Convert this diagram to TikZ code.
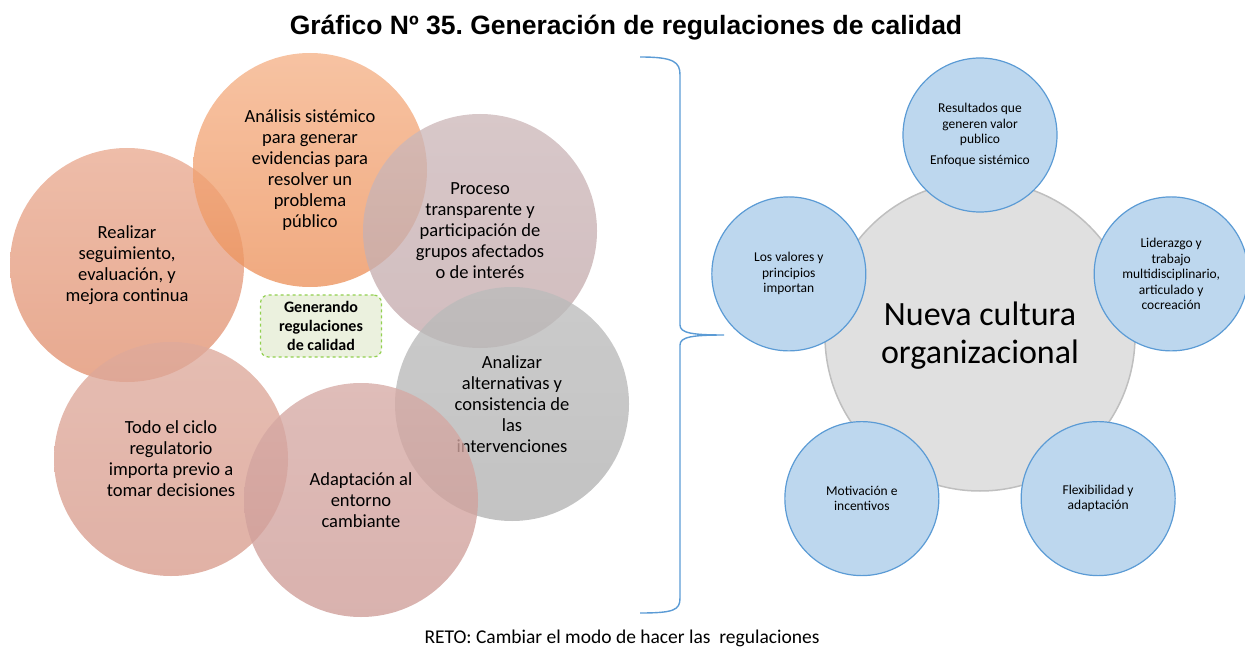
\documentclass[tikz,border=0pt]{standalone}
\usepackage{fontspec}
\setmainfont{Carlito}
\newfontfamily\titlefont{Liberation Sans}
\usepackage{tikz}
\frenchspacing
\definecolor{anaT}{RGB}{245,178,136}
\definecolor{anaB}{RGB}{236,146,92}
\definecolor{reaT}{RGB}{233,170,145}
\definecolor{reaB}{RGB}{225,145,112}
\definecolor{proT}{RGB}{205,184,186}
\definecolor{proB}{RGB}{196,170,172}
\definecolor{anzT}{RGB}{188,188,188}
\definecolor{anzB}{RGB}{178,178,178}
\definecolor{todT}{RGB}{222,170,156}
\definecolor{todB}{RGB}{216,155,140}
\definecolor{adaT}{RGB}{214,170,165}
\definecolor{adaB}{RGB}{206,156,151}
\definecolor{satfill}{RGB}{189,215,238}
\definecolor{satline}{RGB}{91,155,213}
\definecolor{hubfill}{RGB}{224,224,224}
\definecolor{hubline}{RGB}{191,191,191}
\definecolor{tagfill}{RGB}{235,241,222}
\definecolor{tagline}{RGB}{146,208,80}
\tikzset{bub/.style={circle, minimum size=234pt, inner sep=0pt, align=center,
      font=\fontsize{18.5}{21}\selectfont, fill opacity=0.78, text opacity=1}}
\tikzset{sat/.style={circle, draw=satline, line width=1.2pt, fill=satfill,
      minimum size=154pt, inner sep=0pt, align=center, font=\fontsize{13.5}{15.5}\selectfont}}
\tikzset{hub/.style={circle, draw=hubline, line width=1.5pt, fill=hubfill,
      minimum size=310pt, inner sep=0pt, align=center, font=\fontsize{34}{38}\selectfont}}
\tikzset{tag/.style={draw=tagline, dashed, line width=1.2pt, rounded corners=8pt, fill=tagfill,
      minimum width=121pt, minimum height=62pt, inner sep=2pt, align=center,
      font=\bfseries\fontsize{16}{19}\selectfont}}

\begin{document}
\begin{tikzpicture}[x=1pt, y=-1pt]
		\useasboundingbox (0,0) rectangle (1245,655);
		\node[font=\titlefont\bfseries\fontsize{26.5}{30}\selectfont] (title) at (626,28) {Gráfico Nº 35. Generación de regulaciones de calidad};
		% left cluster
		\node[bub, top color=reaT, bottom color=reaB] (rea) at (127,265) {Realizar\\seguimiento,\\evaluación, y\\mejora continua};
		\node[bub, top color=anaT, bottom color=anaB] (ana) at (310,170) {Análisis sistémico\\para generar\\evidencias para\\resolver un\\problema\\público};
		\node[bub, top color=proT, bottom color=proB] (pro) at (480,231) {Proceso\\transparente y\\participación de\\grupos afectados\\o de interés};
		\node[bub, top color=anzT, bottom color=anzB] (anz) at (512,404) {Analizar\\alternativas y\\consistencia de\\las\\intervenciones};
		\node[bub, top color=todT, bottom color=todB] (tod) at (171,459) {Todo el ciclo\\regulatorio\\importa previo a\\tomar decisiones};
		\node[bub, top color=adaT, bottom color=adaB] (ada) at (361,500) {Adaptación al\\entorno\\cambiante};
		\node[tag] (gen) at (321,326) {Generando\\regulaciones\\de calidad};
		% brace
		\draw[satline, line width=1.4pt] (640,57) .. controls (674,57) and (680,62) .. (680,75)
			-- (680,325) .. controls (680,333) and (692,335) .. (724,335)
			.. controls (692,335) and (680,337) .. (680,345)
			-- (680,598) .. controls (680,610) and (674,613) .. (640,613);
		% right cluster
		\node[hub] (hub) at (980,336) {Nueva cultura\\organizacional};
		\foreach \a/\n/\t in {90/res/{Resultados que\\generen valor\\publico\\[5pt]Enfoque sistémico},
				162/val/{Los valores y\\principios\\importan},
				18/lid/{Liderazgo y\\trabajo\\multidisciplinario,\\articulado y\\cocreación},
				234/mot/{Motivación e\\incentivos},
				306/fle/{Flexibilidad y\\adaptación}}
			\path (hub) ++(\a:201pt) node[sat] (\n) {\t};
		\node[font=\fontsize{19.5}{24}\selectfont] (reto) at (622,638) {RETO: Cambiar el modo de hacer las\ \ regulaciones};
\end{tikzpicture}
\end{document}
